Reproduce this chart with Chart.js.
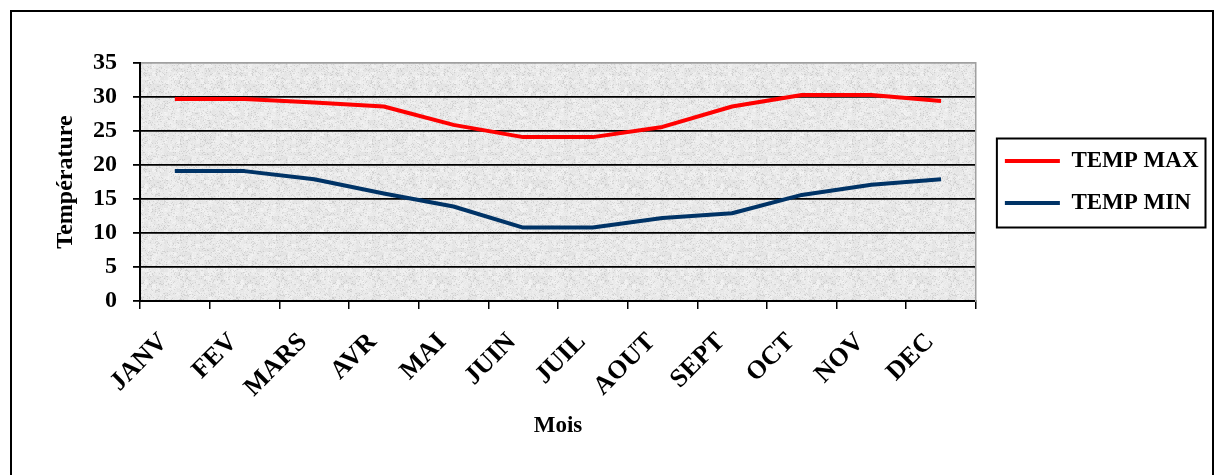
<!DOCTYPE html>
<html>
<head>
<meta charset="utf-8">
<script src="https://cdn.jsdelivr.net/npm/chart.js@4/dist/chart.umd.min.js"></script>
<style>
  html, body { margin: 0; padding: 0; background: #fff; overflow: hidden; }
  #frame { position: absolute; left: 10px; top: 10px; width: 1200px; height: 500px; border: 2px solid #000; }
  #c { position: absolute; left: 0; top: 0; }
</style>
</head>
<body>
<div id="frame"></div>
<canvas id="c" width="1216" height="475"></canvas>
<script>
const months = ['JANV', 'FEV', 'MARS', 'AVR', 'MAI', 'JUIN', 'JUIL', 'AOUT', 'SEPT', 'OCT', 'NOV', 'DEC'];
const tempMax = [29.7, 29.7, 29.2, 28.6, 25.9, 24.1, 24.1, 25.6, 28.6, 30.3, 30.3, 29.4];
const tempMin = [19.1, 19.1, 17.9, 15.8, 13.9, 10.8, 10.8, 12.2, 12.9, 15.6, 17.1, 17.9];
const yTickValues = [0, 5, 10, 15, 20, 25, 30, 35];
const seriesNames = ['TEMP MAX', 'TEMP MIN'];
const xTitle = 'Mois';
const yTitle = 'Température';

const FONT = '"Liberation Serif", "Times New Roman", serif';

// granite-like texture for plot background (deterministic)
function makePattern(ctx) {
  const p = document.createElement('canvas');
  p.width = 96; p.height = 96;
  const pc = p.getContext('2d');
  const img = pc.createImageData(96, 96);
  const h = (x, y) => { const s = Math.sin(x * 12.9898 + y * 78.233) * 43758.5453; return s - Math.floor(s); };
  for (let y = 0; y < 96; y++) {
    for (let x = 0; x < 96; x++) {
      const a = h(x, y), b = h(Math.floor(x / 4), Math.floor(y / 4) + 500);
      let v = 238 - b * 12 - (a > 0.88 ? 20 : 0) + (a < 0.25 ? 6 : 0);
      v = Math.max(195, Math.min(248, v));
      const i = (y * 96 + x) * 4;
      img.data[i] = v; img.data[i + 1] = v; img.data[i + 2] = v; img.data[i + 3] = 255;
    }
  }
  pc.putImageData(img, 0, 0);
  return ctx.createPattern(p, 'repeat');
}

const bgPlugin = {
  id: 'bg',
  beforeDraw(chart) {
    const {ctx, chartArea: a} = chart;
    ctx.save();
    ctx.fillStyle = makePattern(ctx);
    ctx.fillRect(a.left, a.top, a.right - a.left, a.bottom - a.top);
    ctx.restore();
  }
};

const legendFrame = {
  id: 'legendFrame',
  afterDraw(chart) {
    const lg = chart.legend;
    if (!lg || !lg.legendHitBoxes || !lg.legendHitBoxes.length) return;
    const hb = lg.legendHitBoxes;
    const top = hb[0].top - 11;
    const bottom = hb[hb.length - 1].top + hb[hb.length - 1].height + 13;
    const left = hb[0].left - 8;
    const right = lg.right - 3;
    const ctx = chart.ctx;
    ctx.save();
    ctx.strokeStyle = '#000';
    ctx.lineWidth = 2;
    ctx.strokeRect(left, top, right - left, bottom - top);
    ctx.restore();
  }
};

new Chart(document.getElementById('c'), {
  type: 'line',
  data: {
    labels: months,
    datasets: [
      { label: seriesNames[0], data: tempMax, borderColor: '#ff0000', backgroundColor: '#ff0000', borderWidth: 4, pointRadius: 0, tension: 0, borderJoinStyle: 'round' },
      { label: seriesNames[1], data: tempMin, borderColor: '#003366', backgroundColor: '#003366', borderWidth: 4, pointRadius: 0, tension: 0, borderJoinStyle: 'round' }
    ]
  },
  options: {
    responsive: false,
    animation: false,
    devicePixelRatio: 1,
    layout: { padding: { left: 0, top: 63, right: 7.5, bottom: 0 } },
    plugins: {
      tooltip: { enabled: false },
      legend: {
        position: 'right',
        fullSize: false,
        maxWidth: 400,
        labels: {
          usePointStyle: true,
          pointStyle: 'line',
          pointStyleWidth: 55,
          padding: 19,
          color: '#000',
          font: { family: FONT, size: 23, weight: 'bold' }
        }
      }
    },
    scales: {
      x: {
        offset: true,
        afterFit(s) { s.height = 174; },
        grid: { display: true, drawOnChartArea: false, drawTicks: true, tickLength: 8, color: '#000', lineWidth: 1.5, offset: true },
        border: { display: true, color: '#000', width: 2 },
        ticks: { color: '#000', maxRotation: 45, minRotation: 45, padding: 18, labelOffset: -11, autoSkip: false, font: { family: FONT, size: 26, weight: 'bold' } },
        title: { display: true, text: xTitle, color: '#000', padding: { top: 0, bottom: 35 }, font: { family: FONT, size: 23, weight: 'bold' } }
      },
      y: {
        min: 0, max: 35,
        afterFit(s) { s.width = 140; },
        afterBuildTicks(s) { s.ticks = yTickValues.map(v => ({ value: v })); },
        grid: {
          color: c => (c.tick && c.tick.value === 35) ? '#a0a0a0' : '#000',
          tickColor: '#000',
          lineWidth: 1.8, drawTicks: true, tickLength: 7
        },
        border: { display: true, color: '#000', width: 2 },
        ticks: { color: '#000', padding: 16, font: { family: FONT, size: 24, weight: 'bold' } },
        title: { display: true, text: yTitle, color: '#000', padding: { top: 51, bottom: 0 }, font: { family: FONT, size: 24, weight: 'bold' } }
      },
      y2: {
        type: 'linear', position: 'right', min: 0, max: 35,
        afterFit(s) { s.width = 10; },
        ticks: { display: false },
        grid: { drawOnChartArea: false, drawTicks: false },
        border: { display: true, color: '#a0a0a0', width: 1.5 }
      }
    }
  },
  plugins: [bgPlugin, legendFrame]
});
</script>
</body>
</html>
